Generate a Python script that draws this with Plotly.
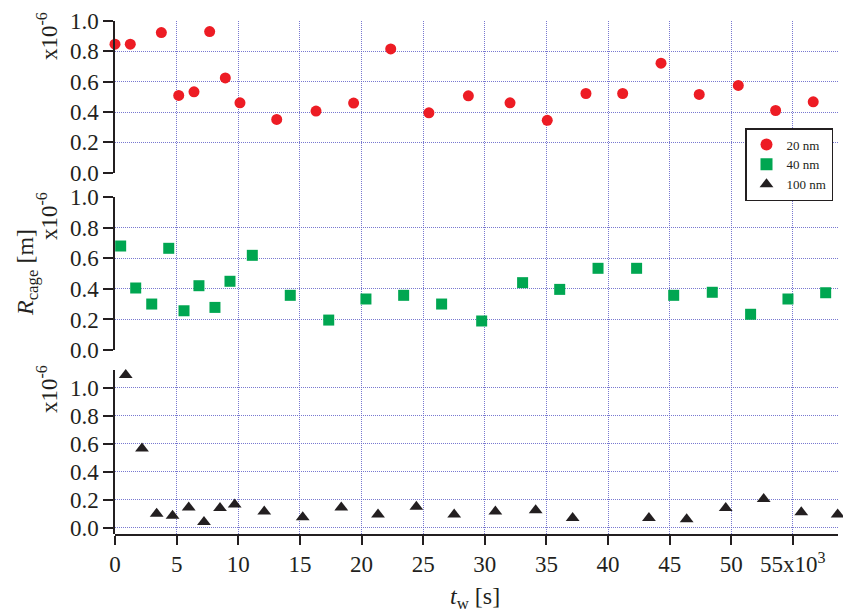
import plotly.graph_objects as go

# Cage radius vs waiting time for three particle sizes
tw_20 = [0.0, 1.24, 3.76, 5.17, 6.41, 7.68, 8.95, 10.14, 13.12, 16.31, 19.36, 22.37,
         25.47, 28.67, 32.05, 35.07, 38.21, 41.19, 44.3, 47.4, 50.57, 53.6, 56.65]
r_20 = [0.847, 0.847, 0.924, 0.509, 0.533, 0.930, 0.625, 0.461, 0.351, 0.406, 0.459, 0.816,
        0.395, 0.507, 0.461, 0.345, 0.522, 0.522, 0.722, 0.516, 0.575, 0.410, 0.467]

tw_40 = [0.46, 1.68, 2.98, 4.36, 5.6, 6.81, 8.11, 9.33, 11.14, 14.22, 17.34, 20.36,
         23.42, 26.5, 29.75, 33.07, 36.08, 39.19, 42.32, 45.33, 48.46, 51.57, 54.6, 57.66]
r_40 = [0.681, 0.406, 0.301, 0.666, 0.257, 0.421, 0.279, 0.450, 0.620, 0.358, 0.196, 0.334,
        0.358, 0.301, 0.190, 0.441, 0.397, 0.535, 0.535, 0.358, 0.378, 0.234, 0.334, 0.375]

tw_100 = [0.87, 2.19, 3.38, 4.67, 5.98, 7.22, 8.52, 9.71, 12.11, 15.23, 18.36, 21.34,
          24.45, 27.52, 30.86, 34.13, 37.13, 43.32, 46.38, 49.55, 52.63, 55.68, 58.63]
r_100 = [1.09, 0.565, 0.10, 0.085, 0.145, 0.04, 0.14, 0.165, 0.115, 0.075, 0.145, 0.095,
         0.15, 0.095, 0.115, 0.125, 0.07, 0.07, 0.06, 0.14, 0.205, 0.11, 0.095]

x_ticks = [0, 5, 10, 15, 20, 25, 30, 35, 40, 45, 50, 55]
x_tick_text = ["0", "5", "10", "15", "20", "25", "30", "35", "40", "45", "50", "55x10<sup>3</sup>"]
y_ticks = [0.0, 0.2, 0.4, 0.6, 0.8, 1.0]
y_tick_text = ["0.0", "0.2", "0.4", "0.6", "0.8", "1.0"]

W, H = 843, 616
L, R, T, B = 115, 838, 21, 534
FONT = "Liberation Serif, Times New Roman, Times, DejaVu Serif, serif"
INK = "#231F20"
GRID = "rgba(96, 96, 200, 0.85)"
GRID_DASH = "1px,1px"
X_RANGE = [0, 58.66]


def px_x(p):
    return (p - L) / (R - L)


def px_y(p):
    return (B - p) / (B - T)


fig = go.Figure()

# empty trace so the full-height base subplot (vertical grid + time axis) exists
fig.add_trace(go.Scatter(x=[], y=[], xaxis="x", yaxis="y", mode="markers",
                         showlegend=False, hoverinfo="skip"))

fig.add_trace(go.Scatter(x=tw_20, y=r_20, mode="markers", name="20 nm",
                         xaxis="x2", yaxis="y2", cliponaxis=False,
                         marker=dict(symbol="circle", size=11, color="#ED1C24")))
fig.add_trace(go.Scatter(x=tw_40, y=r_40, mode="markers", name="40 nm",
                         xaxis="x3", yaxis="y3", cliponaxis=False,
                         marker=dict(symbol="square", size=11, color="#00A651")))
fig.add_trace(go.Scatter(x=tw_100, y=r_100, mode="markers", name="100 nm",
                         xaxis="x4", yaxis="y4", cliponaxis=False,
                         marker=dict(symbol="triangle-up", size=12, color=INK)))

tick_font = dict(family=FONT, size=23, color=INK)

# Full-height base axes: carry the vertical grid and the bottom time axis
base_x = dict(domain=[0, 1], range=X_RANGE, anchor="y",
              tickmode="array", tickvals=x_ticks, ticktext=x_tick_text,
              showgrid=True, gridcolor=GRID, griddash=GRID_DASH, gridwidth=1.3,
              showline=True, linecolor=INK, linewidth=1.5,
              ticks="outside", ticklen=9, tickwidth=1.5, tickcolor=INK,
              tickfont=tick_font, zeroline=False, fixedrange=True)
base_y = dict(domain=[0, 1], range=[0, 1], anchor="x",
              showgrid=False, showline=False, showticklabels=False, ticks="",
              zeroline=False, fixedrange=True)


def panel_x(anchor):
    return dict(domain=[0, 1], range=X_RANGE, anchor=anchor, showgrid=False,
                showline=False, showticklabels=False, ticks="", zeroline=False,
                fixedrange=True)


def panel_y(domain, rng, anchor):
    return dict(domain=domain, range=rng, anchor=anchor,
                tickmode="array", tickvals=y_ticks, ticktext=y_tick_text,
                showgrid=True, gridcolor=GRID, griddash=GRID_DASH, gridwidth=1.3,
                showline=True, linecolor=INK, linewidth=1.5,
                ticks="outside", ticklen=10, tickwidth=1.5, tickcolor=INK,
                tickfont=tick_font, zeroline=False, fixedrange=True)


annotations = []
for yc in (36, 216, 389):
    annotations.append(dict(text="x10<sup>-6</sup>", xref="paper", yref="paper",
                            x=px_x(47), y=px_y(yc), xanchor="center", yanchor="middle",
                            textangle=-90, showarrow=False,
                            font=dict(family=FONT, size=23, color=INK)))
annotations.append(dict(text="<i>R</i><sub>cage</sub> [m]", xref="paper", yref="paper",
                        x=px_x(27), y=px_y(273), xanchor="center", yanchor="middle",
                        textangle=-90, showarrow=False,
                        font=dict(family=FONT, size=24, color=INK)))
annotations.append(dict(text="<i>t</i><sub>w</sub> [s]", xref="paper", yref="paper",
                        x=px_x(475), y=px_y(598), xanchor="center", yanchor="middle",
                        showarrow=False,
                        font=dict(family=FONT, size=24, color=INK)))

fig.update_layout(
    width=W, height=H,
    margin=dict(l=L, r=W - R, t=T, b=H - B, pad=0),
    paper_bgcolor="white", plot_bgcolor="rgba(0,0,0,0)",
    font=dict(family=FONT, color=INK),
    xaxis=base_x, yaxis=base_y,
    xaxis2=panel_x("y2"), xaxis3=panel_x("y3"), xaxis4=panel_x("y4"),
    yaxis2=panel_y([px_y(172.7), 1.0], [0, 1.0], "x2"),
    yaxis3=panel_y([px_y(350), px_y(197.3)], [0, 1.0], "x3"),
    yaxis4=panel_y([0, px_y(370)], [-0.045, 1.126], "x4"),
    showlegend=True,
    legend=dict(x=px_x(745), y=px_y(128), xanchor="left", yanchor="top",
                bgcolor="white", bordercolor=INK, borderwidth=1.5,
                font=dict(family=FONT, size=13, color=INK),
                tracegroupgap=0, itemsizing="constant"),
    annotations=annotations,
)

fig.write_html("out.html")
